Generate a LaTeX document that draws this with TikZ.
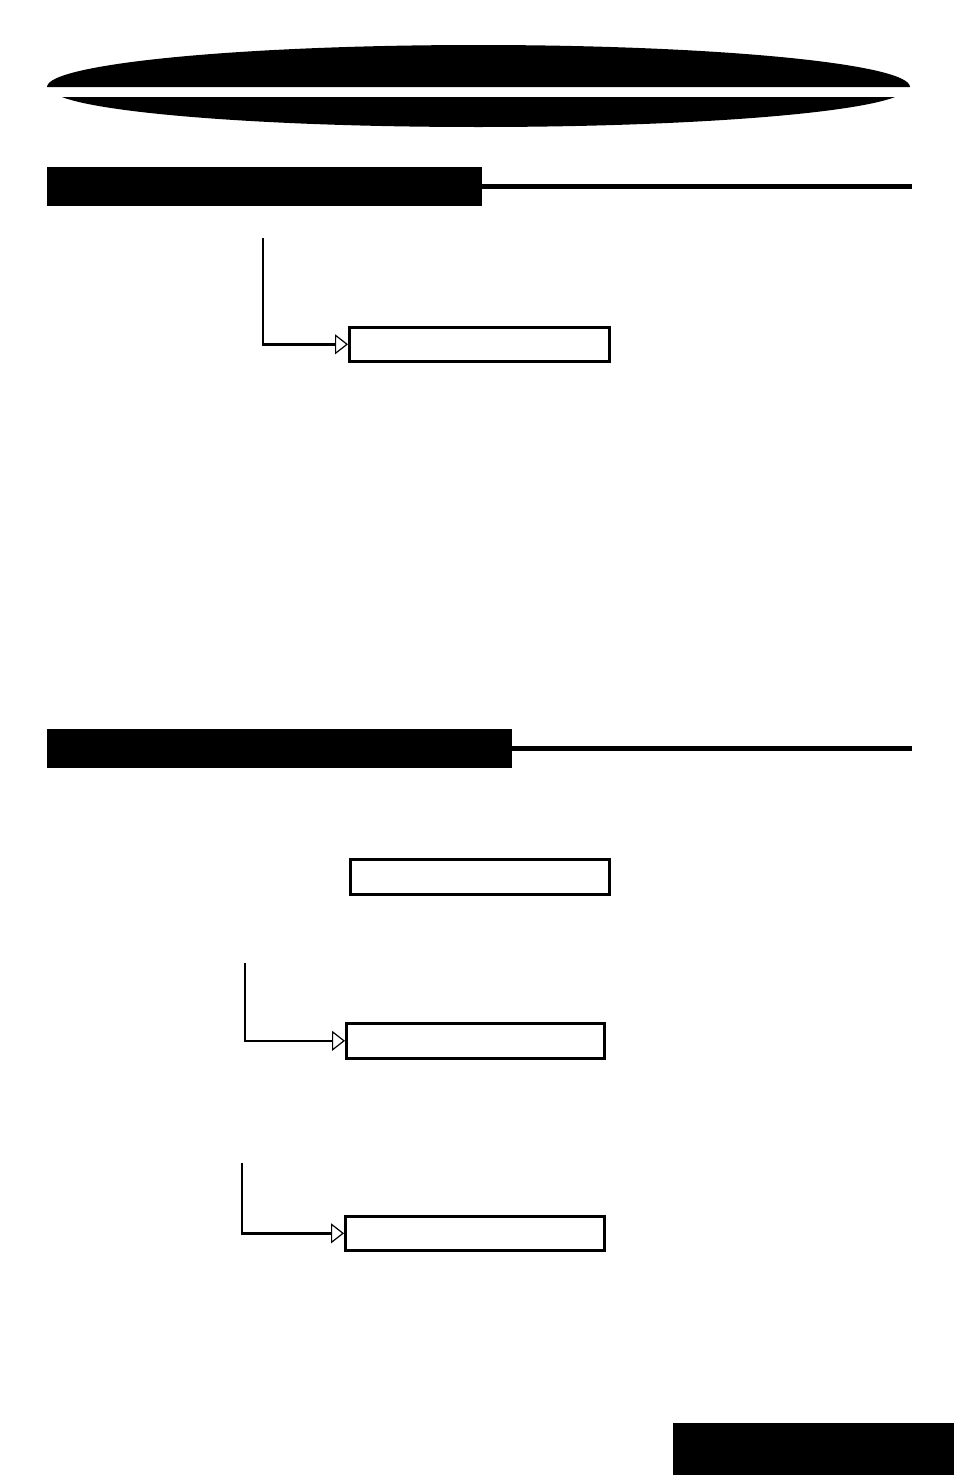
\documentclass[tikz,border=0pt]{standalone}
\usetikzlibrary{arrows.meta}
\begin{document}
\begin{tikzpicture}[x=1pt,y=-1pt,
  hdrbar/.style={fill=black,draw=none},
  rule/.style={line width=5pt},
  stepbox/.style={draw,line width=2.6pt,fill=white},
  feed/.style={line width=2.4pt,-{Triangle[open,length=13pt,width=20pt,line width=1.2pt]}}]
\useasboundingbox (0,0) rectangle (954,1475);
% banner
\fill (47,87) arc[start angle=180,end angle=360,x radius=431.5,y radius=42] -- cycle;
\begin{scope}
  \clip (0,97) rectangle (954,140);
  \fill (478.5,88) ellipse[x radius=428,y radius=39];
\end{scope}
% section 1 header
\node[hdrbar,minimum width=435pt,minimum height=39pt,anchor=north west,inner sep=0] (h1) at (47,167) {};
\coordinate (h1end) at (912,186.5);
\draw[rule] (h1.east |- h1end) -- (h1end);
% section 1 diagram
\node[stepbox,anchor=north west,minimum width=260pt,minimum height=34pt,inner sep=0] (b1) at (348,326) {};
\coordinate (s1) at (263,238);
\draw[feed] (s1) |- (b1.west);
% section 2 header
\node[hdrbar,minimum width=465pt,minimum height=39pt,anchor=north west,inner sep=0] (h2) at (47,729) {};
\coordinate (h2end) at (912,748.5);
\draw[rule] (h2.east |- h2end) -- (h2end);
% section 2 diagram
\node[stepbox,anchor=north west,minimum width=259pt,minimum height=35pt,inner sep=0] (b2) at (349,858) {};
\node[stepbox,anchor=north west,minimum width=258pt,minimum height=35pt,inner sep=0] (b3) at (345,1022) {};
\coordinate (s3) at (245,963);
\draw[feed] (s3) |- (b3.west);
\node[stepbox,anchor=north west,minimum width=259pt,minimum height=34pt,inner sep=0] (b4) at (344,1215) {};
\coordinate (s4) at (242,1163);
\draw[feed] (s4) |- (b4.west);
% page tab
\node[hdrbar,anchor=north west,minimum width=281pt,minimum height=52pt,inner sep=0] (tab) at (673,1423) {};
\end{tikzpicture}
\end{document}
